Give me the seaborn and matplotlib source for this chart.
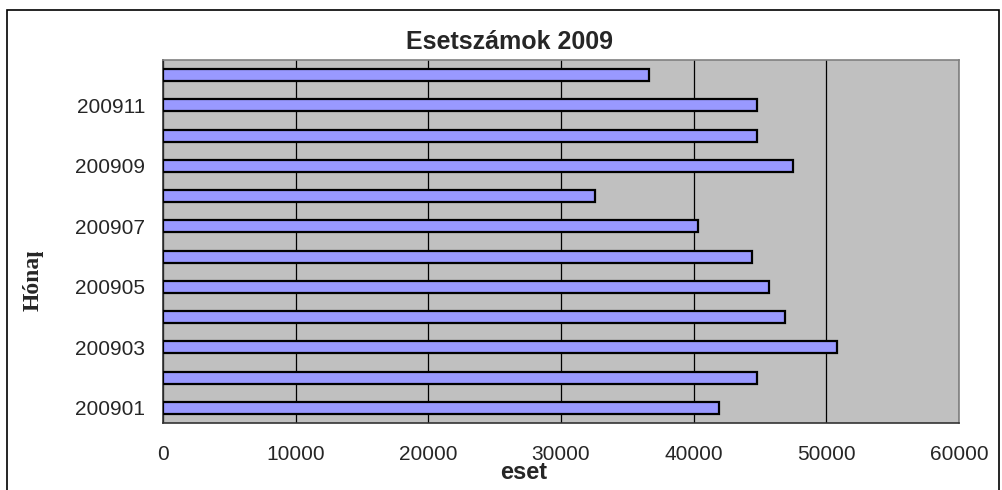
import matplotlib
matplotlib.use("Agg")
import matplotlib.pyplot as plt
import seaborn as sns
import pandas as pd
import numpy as np
from matplotlib.patches import Rectangle
from matplotlib.transforms import Bbox, TransformedBbox

months = ["200901", "200902", "200903", "200904", "200905", "200906",
          "200907", "200908", "200909", "200910", "200911", "200912"]
cases = [41930, 44800, 50830, 46900, 45700, 44370,
         40300, 32590, 47510, 44770, 44770, 36660]
labeled_months = ["200901", "200903", "200905", "200907", "200909", "200911"]
x_ticks = [0, 10000, 20000, 30000, 40000, 50000, 60000]

title = "Esetszámok 2009"
xlabel = "eset"
ylabel = "Hónap"

sns.set_style("white")
plt.rcParams["font.family"] = ["Liberation Sans", "DejaVu Sans"]

df = pd.DataFrame({"month": months, "cases": cases})
order = months[::-1]

W, H = 1003, 490
fig = plt.figure(figsize=(W / 100, H / 100), dpi=100)
ax = fig.add_axes([163 / W, (H - 423) / H, 796 / W, 363 / H])

sns.barplot(data=df, y="month", x="cases", order=order, orient="h",
            color="#9999FF", saturation=1, width=0.4,
            edgecolor="black", linewidth=1.6, ax=ax, zorder=3)

ax.set_facecolor("#C0C0C0")
ax.set_xlim(0, 60000)
ax.set_ylim(len(order) - 0.5, -0.5)

ax.set_xticks(x_ticks)
ax.set_xticklabels([str(v) for v in x_ticks], fontsize=15)
ax.xaxis.grid(True, color="black", linewidth=0.9, zorder=0)
ax.set_axisbelow(True)
ax.tick_params(axis="x", direction="out", length=5, width=1, color="#333333", pad=11)

pos = [order.index(m) for m in labeled_months]
ax.set_yticks(pos)
ax.set_yticklabels(labeled_months, fontsize=15)
ax.set_yticks(np.arange(-0.5, len(order), 1.0), minor=True)
ax.tick_params(axis="y", which="major", length=0, pad=13)
ax.tick_params(axis="y", which="minor", direction="out", length=6, width=1, color="#333333")

for side in ["top", "right"]:
    ax.spines[side].set_color("#808080")
    ax.spines[side].set_linewidth(1.2)
for side in ["left", "bottom"]:
    ax.spines[side].set_color("#333333")
    ax.spines[side].set_linewidth(1.2)

ax.set_xlabel("")
ax.set_ylabel("")

fig.text(510 / W, 1 - 42 / H, title, ha="center", va="center",
         fontsize=18, fontweight="bold")
fig.text(524 / W, 1 - 472 / H, xlabel, ha="center", va="center",
         fontsize=17, fontweight="bold")
yl = fig.text(33 / W, 1 - 277 / H, ylabel, ha="center", va="center",
              rotation=90, fontsize=17, fontweight="bold",
              family=["Liberation Serif", "DejaVu Serif"])
yl.set_clip_box(TransformedBbox(Bbox([[0, 0], [1, 1 - 252 / H]]), fig.transFigure))
yl.set_clip_on(True)

fig.patches.append(Rectangle((7 / W, -0.01), 992 / W, 1 - 10 / H + 0.01,
                             transform=fig.transFigure, fill=False,
                             edgecolor="black", linewidth=1.2))

fig.savefig("out.png", dpi=100)
